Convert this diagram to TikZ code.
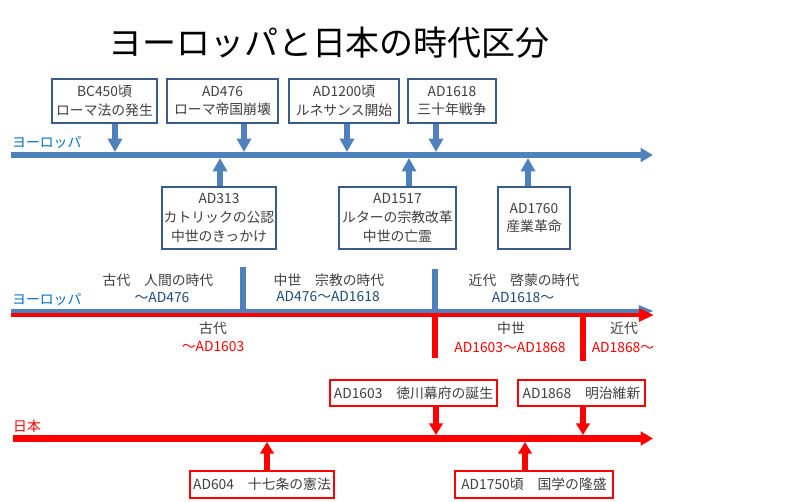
\documentclass[tikz,border=0pt]{standalone}
\usepackage{fontspec}
\setmainfont{Noto Sans CJK JP}
\usetikzlibrary{arrows.meta}
\definecolor{eublue}{HTML}{4F81BD}
\definecolor{boxblue}{HTML}{385D8A}
\definecolor{lblblue}{HTML}{0070C0}
\definecolor{navy}{HTML}{1F497D}
\definecolor{txtgray}{HTML}{404040}
\definecolor{jpred}{HTML}{FF0000}
\begin{document}
\begin{tikzpicture}[x=0.03cm,y=-0.03cm,
	every node/.style={font=\fontsize{11.8}{16}\selectfont,text=txtgray},
	eubox/.style={draw=boxblue,line width=2pt,fill=white,align=center,inner sep=0pt},
	jpbox/.style={draw=jpred,line width=2pt,fill=white,inner sep=0pt},
	euarr/.style={eublue,line width=5pt,-{Triangle[width=12pt,length=11.5pt]}},
	jparr/.style={jpred,line width=5pt,-{Triangle[width=11.5pt,length=10pt]}},
	euline/.style={eublue,line width=5.1pt,-{Triangle[width=11.5pt,length=10.5pt]}},
	jpline/.style={jpred,line width=6pt,-{Triangle[width=11.5pt,length=10.5pt]}}]
		\useasboundingbox (0,0) rectangle (800,502);
		\node[font=\fontsize{29}{34}\selectfont,text=black] (title) at (329,43) {ヨーロッパと日本の時代区分};
		\coordinate (eua) at (11,155);
		\coordinate (eub) at (653,155);
		\draw[euline] (eua) -- (eub);
		\node[text=lblblue,anchor=west,inner sep=0pt] (eulbl) at (12,142) {ヨーロッパ};
		\node[eubox,minimum width=3.15cm,minimum height=1.32cm] (b1) at (104.5,101) {BC450頃\\ローマ法の発生};
		\node[eubox,minimum width=3.33cm,minimum height=1.32cm] (b2) at (222.5,101) {AD476\\ローマ帝国崩壊};
		\node[eubox,minimum width=3.3cm,minimum height=1.32cm] (b3) at (344,101) {AD1200頃\\ルネサンス開始};
		\node[eubox,minimum width=2.64cm,minimum height=1.32cm] (b4) at (452,101) {AD1618\\三十年戦争};
		\node[eubox,minimum width=3.42cm,minimum height=1.86cm] (b5) at (219,218) {AD313\\カトリックの公認\\中世のきっかけ};
		\node[eubox,minimum width=3.51cm,minimum height=1.86cm] (b6) at (397.5,218) {AD1517\\ルターの宗教改革\\中世の亡霊};
		\node[eubox,minimum width=2.16cm,minimum height=1.86cm] (b7) at (534,218) {AD1760\\産業革命};
		\coordinate (t1) at (115,152);
		\coordinate (t2) at (244,152);
		\coordinate (t3) at (347,152);
		\coordinate (t4) at (436,152);
		\coordinate (t5) at (220,158);
		\coordinate (t6) at (409,158);
		\coordinate (t7) at (528,158);
		\draw[euarr] (b1.south -| t1) -- (t1);
		\draw[euarr] (b2.south -| t2) -- (t2);
		\draw[euarr] (b3.south -| t3) -- (t3);
		\draw[euarr] (b4.south -| t4) -- (t4);
		\draw[euarr] (b5.north -| t5) -- (t5);
		\draw[euarr] (b6.north -| t6) -- (t6);
		\draw[euarr] (b7.north -| t7) -- (t7);
		\coordinate (ma) at (11,311);
		\coordinate (mb) at (654,311);
		\coordinate (ra) at (11,315);
		\coordinate (rb) at (654,315);
		\draw[eublue,line width=3.4pt,-{Triangle[width=9pt,length=13pt]}] (ma) -- (mb);
		\draw[jpred,line width=3.4pt,-{Triangle[width=11pt,length=13pt]}] (ra) -- (rb);
		\draw[eublue,line width=4.7pt] (243,267) -- (243,309);
		\draw[eublue,line width=4.7pt] (435,269) -- (435,309);
		\draw[jpred,line width=5.5pt] (435,317) -- (435,358);
		\draw[jpred,line width=5.5pt] (583,317) -- (583,361);
		\node[text=lblblue,anchor=west,inner sep=0pt] (midlbl) at (12,299) {ヨーロッパ};
		\node (eu1) at (158,280) {古代　人間の時代};
		\node[text=navy] (eu1d) at (162,298) {～AD476};
		\node (eu2) at (329,280) {中世　宗教の時代};
		\node[text=navy] (eu2d) at (328,297) {AD476～AD1618};
		\node (eu3) at (524,280) {近代　啓蒙の時代};
		\node[text=navy] (eu3d) at (523,298) {AD1618～};
		\node (jp1) at (213,328) {古代};
		\node[text=jpred] (jp1d) at (213,347) {～AD1603};
		\node (jp2) at (511,328) {中世};
		\node[text=jpred] (jp2d) at (510,348) {AD1603～AD1868};
		\node (jp3) at (624,328) {近代};
		\node[text=jpred] (jp3d) at (623,348) {AD1868～};
		\coordinate (jpa) at (13,438.5);
		\coordinate (jpb) at (653,438.5);
		\draw[jpline] (jpa) -- (jpb);
		\node[text=jpred,anchor=west,inner sep=0pt] (jplbl) at (13,426) {日本};
		\node[jpbox,minimum width=5.01cm,minimum height=0.78cm] (r1) at (413.5,393) {AD1603　徳川幕府の誕生};
		\node[jpbox,minimum width=3.81cm,minimum height=0.78cm] (r2) at (581.5,393) {AD1868　明治維新};
		\node[jpbox,minimum width=4.32cm,minimum height=0.81cm] (r3) at (262,484.5) {AD604　十七条の憲法};
		\node[jpbox,minimum width=4.74cm,minimum height=0.81cm] (r4) at (534,484.5) {AD1750頃　国学の隆盛};
		\coordinate (j1) at (436,435);
		\coordinate (j2) at (583,435);
		\coordinate (j3) at (267,442);
		\coordinate (j4) at (525,442);
		\draw[jparr] (r1.south -| j1) -- (j1);
		\draw[jparr] (r2.south -| j2) -- (j2);
		\draw[jparr] (r3.north -| j3) -- (j3);
		\draw[jparr] (r4.north -| j4) -- (j4);
	\end{tikzpicture}
\end{document}
